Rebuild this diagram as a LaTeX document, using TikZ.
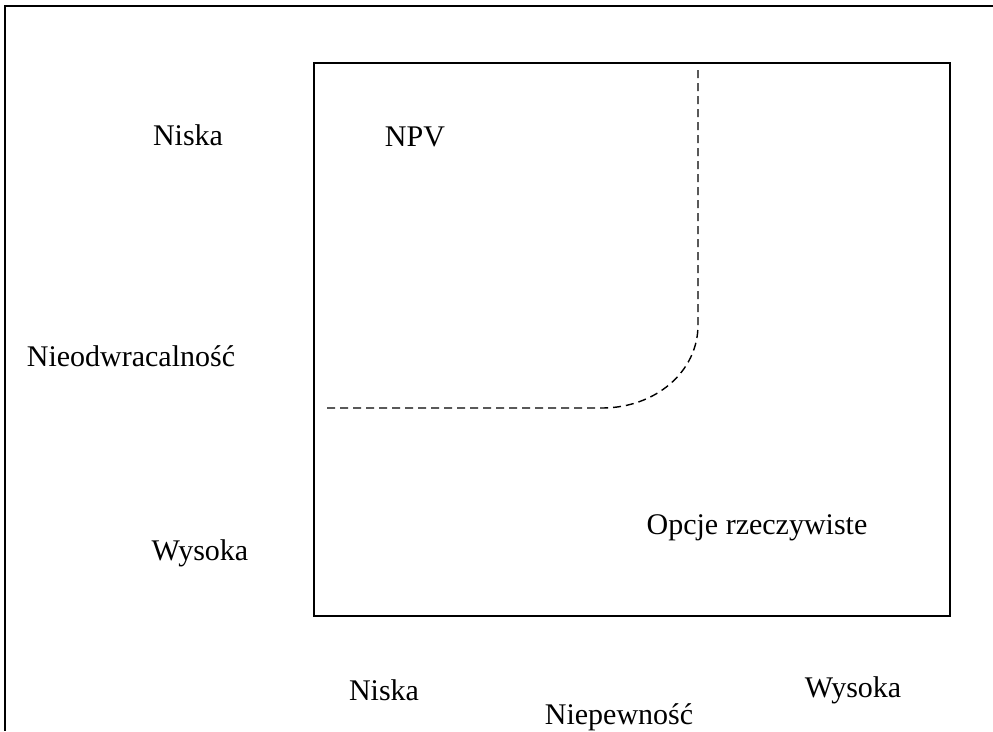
\documentclass[tikz,border=0pt]{standalone}
\usepackage{fontspec}
\setmainfont{Liberation Serif}
\begin{document}
\begin{tikzpicture}[x=1pt,y=-1pt,
  lbl/.style={inner sep=0pt,font=\fontsize{30}{33}\selectfont},
  frameline/.style={line width=2.5pt},
  boxline/.style={line width=1.8pt},
  bound/.style={line width=1.4pt,dash pattern=on 8pt off 5pt}]
\useasboundingbox (0,0) rectangle (993,731);
% outer frame (partial)
\draw[frameline] (993,6) -- (5,6) -- (5,731);
% inner box
\draw[boxline] (314,63) rectangle (950,616);
% dashed boundary
\coordinate (t) at (698,70);
\coordinate (k) at (698,325);
\coordinate (h) at (602,408);
\coordinate (e) at (323,408);
\draw[bound] (t) -- (k) .. controls (698,372) and (655,408) .. (h) -- (e);
% labels
\node[lbl] (yl) at (188,135) {Niska};
\node[lbl] (npv) at (415,137) {NPV};
\node[lbl] (yax) at (131,356) {Nieodwracalność};
\node[lbl] (yh) at (200,553) {Wysoka};
\node[lbl] (ro) at (757,528) {Opcje rzeczywiste};
\node[lbl] (xl) at (384,690) {Niska};
\node[lbl] (xh) at (853,690) {Wysoka};
\node[lbl] (xax) at (619,717) {Niepewność};
\end{tikzpicture}
\end{document}
